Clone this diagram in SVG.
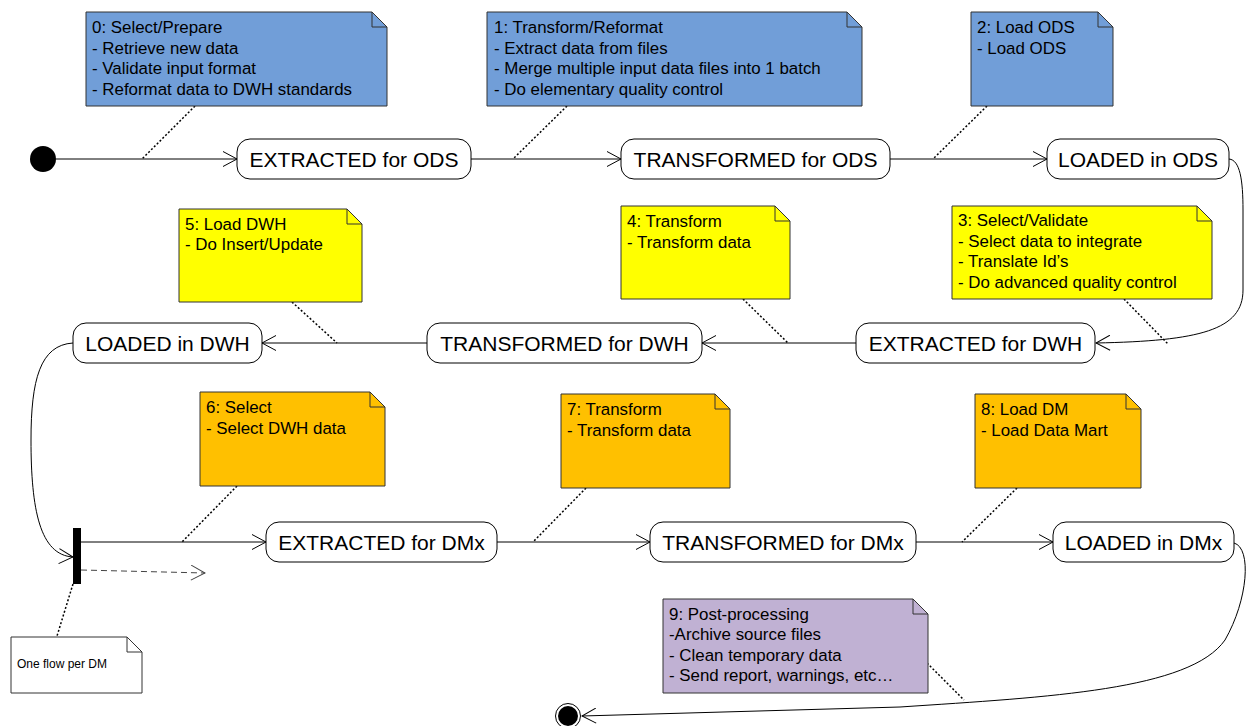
<svg xmlns="http://www.w3.org/2000/svg" width="1247" height="726" viewBox="0 0 1247 726">
<defs>
<marker id="open" viewBox="0 0 16 16" refX="15" refY="8" markerWidth="16" markerHeight="16" markerUnits="userSpaceOnUse" orient="auto">
<path d="M1,0.5 L15,8 L1,15.5" fill="none" stroke="#000" stroke-width="1"/>
</marker>
<marker id="openg" viewBox="0 0 16 16" refX="15" refY="8" markerWidth="16" markerHeight="16" markerUnits="userSpaceOnUse" orient="auto">
<path d="M1,0.5 L15,8 L1,15.5" fill="none" stroke="#444" stroke-width="1"/>
</marker>
<style>
.st{fill:#fff;stroke:#000;stroke-width:1}
.stt{font-family:"Liberation Sans",Arial,sans-serif;font-size:21px;fill:#000;text-anchor:middle}
.nt{stroke:#333;stroke-width:1}
.ntt{font-family:"Liberation Sans",Arial,sans-serif;font-size:16.9px;fill:#000}
.blue{fill:#719ED8}
.yel{fill:#FFFF00}
.org{fill:#FFC000}
.pur{fill:#C0B1D3}
.wht{fill:#fff}
.ln{fill:none;stroke:#000;stroke-width:1}
.dot{fill:none;stroke:#000;stroke-width:1.5;stroke-dasharray:2,2}
</style>
</defs>

<g id="connectors">
<line class="ln" x1="56" y1="159" x2="237" y2="159" marker-end="url(#open)"/>
<line class="ln" x1="471" y1="159" x2="621" y2="159" marker-end="url(#open)"/>
<line class="ln" x1="890" y1="159" x2="1047" y2="159" marker-end="url(#open)"/>
<path class="ln" d="M1229,159 C1240,160 1243,180 1243,210 L1243,290 C1243,330 1200,341 1096,343" marker-end="url(#open)"/>
<line class="ln" x1="856" y1="343" x2="702" y2="343" marker-end="url(#open)"/>
<line class="ln" x1="427" y1="343" x2="262" y2="343" marker-end="url(#open)"/>
<path class="ln" d="M73,343 C40,345 31,380 31,440 C31,510 40,555 73,557" marker-end="url(#open)"/>
<line class="ln" x1="81" y1="542" x2="266" y2="542" marker-end="url(#open)"/>
<line x1="81" y1="570" x2="205" y2="573" fill="none" stroke="#444" stroke-width="1" stroke-dasharray="6,4" marker-end="url(#openg)"/>
<line class="ln" x1="497" y1="542" x2="650" y2="542" marker-end="url(#open)"/>
<line class="ln" x1="916" y1="542" x2="1053" y2="542" marker-end="url(#open)"/>
<path class="ln" d="M1234,543 C1252,548 1248,600 1225,640 C1190,690 1050,697 900,707 L582,716" marker-end="url(#open)"/>
<line class="dot" x1="195" y1="106" x2="142" y2="159"/>
<line class="dot" x1="567" y1="106" x2="513" y2="159"/>
<line class="dot" x1="987" y1="106" x2="933" y2="159"/>
<line class="dot" x1="1124" y1="299" x2="1168" y2="344"/>
<line class="dot" x1="743" y1="299" x2="788" y2="343"/>
<line class="dot" x1="292" y1="302" x2="337" y2="343"/>
<line class="dot" x1="237" y1="486" x2="182" y2="542"/>
<line class="dot" x1="586" y1="488" x2="533" y2="542"/>
<line class="dot" x1="1017" y1="488" x2="962" y2="542"/>
<line class="dot" x1="927" y1="663" x2="964" y2="700"/>
<line class="dot" x1="73" y1="584" x2="57" y2="636"/>
</g>

<g id="initial"><circle cx="43" cy="159" r="13" fill="#000"/></g>
<g id="final"><circle cx="568" cy="716" r="12.5" fill="#fff" stroke="#000" stroke-width="1"/><circle cx="568" cy="716" r="10" fill="#000"/></g>
<g id="fork"><rect x="73" y="528" width="8" height="56" fill="#000"/></g>

<g id="s-extracted-ods"><rect class="st" x="237" y="139" width="234" height="40" rx="13"/><text class="stt" x="354" y="166.5">EXTRACTED for ODS</text></g>
<g id="s-transformed-ods"><rect class="st" x="621" y="139" width="269" height="40" rx="13"/><text class="stt" x="755.5" y="166.5">TRANSFORMED for ODS</text></g>
<g id="s-loaded-ods"><rect class="st" x="1047" y="139" width="182" height="40" rx="13"/><text class="stt" x="1138" y="166.5">LOADED in ODS</text></g>
<g id="s-extracted-dwh"><rect class="st" x="856" y="323" width="239" height="40" rx="13"/><text class="stt" x="975.5" y="350.5">EXTRACTED for DWH</text></g>
<g id="s-transformed-dwh"><rect class="st" x="427" y="323" width="275" height="40" rx="13"/><text class="stt" x="564.5" y="350.5">TRANSFORMED for DWH</text></g>
<g id="s-loaded-dwh"><rect class="st" x="73" y="323" width="189" height="40" rx="13"/><text class="stt" x="167.5" y="350.5">LOADED in DWH</text></g>
<g id="s-extracted-dmx"><rect class="st" x="266" y="522" width="231" height="40" rx="13"/><text class="stt" x="381.5" y="549.5">EXTRACTED for DMx</text></g>
<g id="s-transformed-dmx"><rect class="st" x="650" y="522" width="266" height="40" rx="13"/><text class="stt" x="783" y="549.5">TRANSFORMED for DMx</text></g>
<g id="s-loaded-dmx"><rect class="st" x="1053" y="522" width="181" height="40" rx="13"/><text class="stt" x="1143.5" y="549.5">LOADED in DMx</text></g>

<g id="note0">
<path class="nt blue" d="M86,12 H372 L387,27 V106 H86 Z"/><path class="nt" fill="none" d="M372,12 V27 H387"/>
<text class="ntt"><tspan x="92" y="33">0: Select/Prepare</tspan><tspan x="92" y="53.5">- Retrieve new data</tspan><tspan x="92" y="74">- Validate input format</tspan><tspan x="92" y="94.5">- Reformat data to DWH standards</tspan></text>
</g>
<g id="note1">
<path class="nt blue" d="M487,12 H847 L862,27 V106 H487 Z"/><path class="nt" fill="none" d="M847,12 V27 H862"/>
<text class="ntt"><tspan x="494" y="33">1: Transform/Reformat</tspan><tspan x="494" y="53.5">- Extract data from files</tspan><tspan x="494" y="74">- Merge multiple input data files into 1 batch</tspan><tspan x="494" y="94.5">- Do elementary quality control</tspan></text>
</g>
<g id="note2">
<path class="nt blue" d="M971,12 H1098 L1113,27 V106 H971 Z"/><path class="nt" fill="none" d="M1098,12 V27 H1113"/>
<text class="ntt"><tspan x="977" y="33">2: Load ODS</tspan><tspan x="977" y="53.5">- Load ODS</tspan></text>
</g>
<g id="note3">
<path class="nt yel" d="M952,206 H1197 L1212,221 V299 H952 Z"/><path class="nt" fill="none" d="M1197,206 V221 H1212"/>
<text class="ntt"><tspan x="958" y="226">3: Select/Validate</tspan><tspan x="958" y="246.5">- Select data to integrate</tspan><tspan x="958" y="267">- Translate Id’s</tspan><tspan x="958" y="287.5">- Do advanced quality control</tspan></text>
</g>
<g id="note4">
<path class="nt yel" d="M621,206 H775 L790,221 V299 H621 Z"/><path class="nt" fill="none" d="M775,206 V221 H790"/>
<text class="ntt"><tspan x="627" y="227">4: Transform</tspan><tspan x="627" y="247.5">- Transform data</tspan></text>
</g>
<g id="note5">
<path class="nt yel" d="M179,209 H347 L362,224 V302 H179 Z"/><path class="nt" fill="none" d="M347,209 V224 H362"/>
<text class="ntt"><tspan x="185" y="229.5">5: Load DWH</tspan><tspan x="185" y="250">- Do Insert/Update</tspan></text>
</g>
<g id="note6">
<path class="nt org" d="M200,392 H370 L385,407 V486 H200 Z"/><path class="nt" fill="none" d="M370,392 V407 H385"/>
<text class="ntt"><tspan x="206" y="413">6: Select</tspan><tspan x="206" y="433.5">- Select DWH data</tspan></text>
</g>
<g id="note7">
<path class="nt org" d="M561,394 H715 L730,409 V488 H561 Z"/><path class="nt" fill="none" d="M715,394 V409 H730"/>
<text class="ntt"><tspan x="567" y="415">7: Transform</tspan><tspan x="567" y="435.5">- Transform data</tspan></text>
</g>
<g id="note8">
<path class="nt org" d="M975,394 H1126 L1141,409 V488 H975 Z"/><path class="nt" fill="none" d="M1126,394 V409 H1141"/>
<text class="ntt"><tspan x="981" y="415">8: Load DM</tspan><tspan x="981" y="435.5">- Load Data Mart</tspan></text>
</g>
<g id="note9">
<path class="nt pur" d="M663,599 H913 L928,614 V693 H663 Z"/><path class="nt" fill="none" d="M913,599 V614 H928"/>
<text class="ntt"><tspan x="669" y="619.5">9: Post-processing</tspan><tspan x="669" y="640">-Archive source files</tspan><tspan x="669" y="660.5">- Clean temporary data</tspan><tspan x="669" y="681">- Send report, warnings, etc…</tspan></text>
</g>
<g id="note-flow">
<path class="nt wht" d="M11,637 H127 L142,652 V693 H11 Z"/><path class="nt" fill="none" d="M127,637 V652 H142"/>
<text x="17" y="668" font-family="'Liberation Sans',Arial,sans-serif" font-size="12" fill="#000">One flow per DM</text>
</g>
</svg>
